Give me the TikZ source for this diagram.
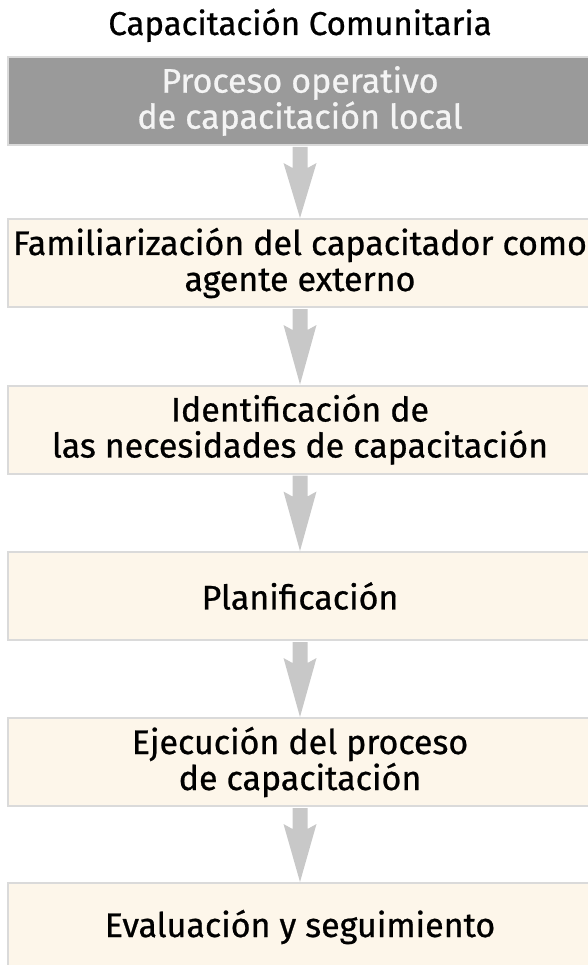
\documentclass[tikz,border=0pt]{standalone}
\usepackage{fontspec}
\setmainfont{Fira Sans}[FakeBold=0.7]
\usetikzlibrary{calc}
\definecolor{boxborder}{HTML}{DADADA}
\definecolor{headfill}{HTML}{9A9A9A}
\definecolor{headtext}{HTML}{F4F4F4}
\definecolor{creamfill}{HTML}{FDF6EA}
\definecolor{arrowgray}{HTML}{C8C8C8}
\newcommand{\flowarrow}[2]{%
  \fill[arrowgray] ($(#1.south)+(-7.5,-1)$) -- ($(#1.south)+(-7.5,-22)$) -- ($(#1.south)+(-16.5,-17)$)
    -- (#2.north) -- ($(#1.south)+(16.5,-17)$) -- ($(#1.south)+(7.5,-22)$) -- ($(#1.south)+(7.5,-1)$) -- cycle;}
\tikzset{
  stagebox/.style={draw=boxborder, line width=2pt, fill=creamfill, minimum width=584pt,
    minimum height=88pt, inner sep=0pt, align=center, text=black,
    font=\fontsize{34}{36}\selectfont},
  headbox/.style={stagebox, fill=headfill, text=headtext},
  titletext/.style={font=\fontsize{33}{36}\selectfont, text=black, inner sep=0pt}
}
\begin{document}
\begin{tikzpicture}[x=1pt,y=1pt]
\useasboundingbox (0,0) rectangle (588,-965);
\node[titletext, anchor=base] (title) at (300,-35) {Capacitación Comunitaria};
\node[headbox] (b1) at (300,-101) {Proceso operativo\\de capacitación local};
\node[stagebox] (b2) at (300,-263) {Familiarización del capacitador como\\agente externo};
\node[stagebox] (b3) at (300,-429.5) {Identificación de\\las necesidades de capacitación};
\node[stagebox] (b4) at (300,-596) {Planificación};
\node[stagebox] (b5) at (300,-762) {Ejecución del proceso\\de capacitación};
\node[stagebox] (b6) at (300,-927) {Evaluación y seguimiento};
\flowarrow{b1}{b2}
\flowarrow{b2}{b3}
\flowarrow{b3}{b4}
\flowarrow{b4}{b5}
\flowarrow{b5}{b6}
\end{tikzpicture}
\end{document}
